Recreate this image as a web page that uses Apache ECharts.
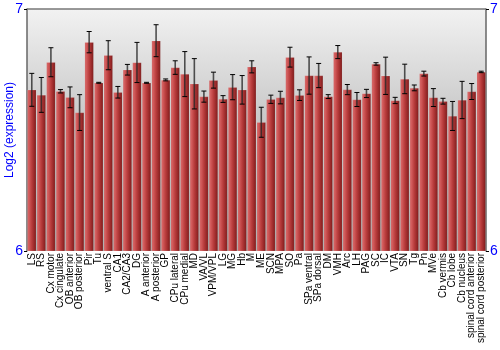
<!DOCTYPE html>
<html><head><meta charset="utf-8">
<script src="https://cdn.jsdelivr.net/npm/echarts@6/dist/echarts.min.js"></script>
<style>html,body{margin:0;padding:0;background:#fff}#c{width:500px;height:350px}</style>
</head><body><div id="c"></div>
<script>
const categories = ["LS","RS","Cx motor","Cx cingulate","OB anterior","OB posterior","Pir","Tu","ventral S","CA1","CA2/CA3","DG","A anterior","A posterior","GP","CPu lateral","CPu medial","MD","VA/VL","VPM/VPL","LG","MG","Hb","M","ME","SCN","MPA","SO","Pa","SPa ventral","SPa dorsal","DM","VMH","Arc","LH","PAG","SC","IC","VTA","SN","Tg","Pn","MVe","Cb vermis","Cb lobe","Cb nucleus","spinal cord anterior","spinal cord posterior"];
const values = [6.666,6.645,6.780,6.660,6.635,6.572,6.863,6.695,6.809,6.656,6.749,6.779,6.695,6.869,6.707,6.758,6.731,6.691,6.638,6.706,6.628,6.677,6.666,6.761,6.532,6.627,6.634,6.801,6.644,6.725,6.725,6.638,6.822,6.667,6.626,6.651,6.773,6.724,6.622,6.711,6.674,6.733,6.634,6.619,6.558,6.624,6.659,6.740];
const errors = [0.068,0.072,0.060,0.007,0.043,0.074,0.044,0.002,0.060,0.024,0.022,0.083,0.002,0.066,0.004,0.028,0.093,0.104,0.023,0.033,0.014,0.052,0.059,0.025,0.062,0.017,0.026,0.041,0.022,0.077,0.050,0.008,0.027,0.021,0.029,0.017,0.005,0.077,0.013,0.061,0.012,0.010,0.037,0.012,0.060,0.077,0.033,0.003];
const yTicks = [6,7];
const yName = "Log2 (expression)";

const chart = echarts.init(document.getElementById('c'), null, {renderer:'canvas'});
const errData = values.map((v,i)=>[i, v-errors[i], v+errors[i]]);
const barColor = new echarts.graphic.LinearGradient(0,0,1,0,[
  {offset:0,color:'#c85858'},{offset:0.15,color:'#d66060'},{offset:0.5,color:'#b83c3c'},{offset:0.85,color:'#902424'},{offset:1,color:'#701515'}]);
const font = 'Liberation Sans, Arial, sans-serif';
chart.setOption({
  animation:false,
  backgroundColor:'#ffffff',
  grid:{left:27,right:14,top:9,bottom:99,show:true,borderWidth:0,outerBoundsMode:'none',containLabel:false,
    backgroundColor:new echarts.graphic.LinearGradient(0,0,0,1,[{offset:0,color:'#f2f2f2'},{offset:0.4,color:'#cdcdcd'},{offset:1,color:'#a8a8a8'}])},
  xAxis:{type:'category',data:categories,
    axisLine:{show:false},axisTick:{show:false},
    axisLabel:{rotate:90,interval:0,margin:2,fontSize:10,color:'#000',fontFamily:font}},
  yAxis:[
    {type:'value',min:6,max:7,interval:1,position:'left',
     name:yName,nameLocation:'middle',nameGap:11,nameMoveOverlap:false,nameTextStyle:{color:'#0000ff',fontSize:12,fontFamily:font},
     axisLine:{show:true,lineStyle:{color:'#666',width:1.5}},axisTick:{show:true,length:3,lineStyle:{color:'#000'}},
     splitLine:{show:false},
     axisLabel:{color:'#0000ff',fontSize:14,margin:4,fontFamily:font,formatter:v=>yTicks.includes(v)?String(v):''}},
    {type:'value',min:6,max:7,interval:1,position:'right',
     axisLine:{show:true,lineStyle:{color:'#666',width:1.5}},axisTick:{show:true,length:3,lineStyle:{color:'#000'}},
     splitLine:{show:false},
     axisLabel:{color:'#0000ff',fontSize:14,margin:4,fontFamily:font,formatter:v=>yTicks.includes(v)?String(v):''}}
  ],
  graphic:[{type:'line',shape:{x1:27,y1:9,x2:486,y2:9},style:{stroke:'#777',lineWidth:1.5},z:10}],
  series:[
    {type:'bar',data:values,barCategoryGap:'6%',itemStyle:{color:barColor,borderColor:'rgba(255,255,255,0.25)',borderWidth:0.5}},
    {type:'custom',data:errData,z:5,
     renderItem:function(params,api){
       const x=api.value(0);
       const lo=api.coord([x,api.value(1)]);
       const hi=api.coord([x,api.value(2)]);
       const w=2.5;
       const st={stroke:'#000',lineWidth:1};
       return {type:'group',children:[
         {type:'line',shape:{x1:lo[0],y1:lo[1],x2:hi[0],y2:hi[1]},style:{stroke:'rgba(40,40,40,0.8)',lineWidth:1.6}},
         {type:'line',shape:{x1:lo[0]-w,y1:lo[1],x2:lo[0]+w,y2:lo[1]},style:st},
         {type:'line',shape:{x1:hi[0]-w,y1:hi[1],x2:hi[0]+w,y2:hi[1]},style:st}
       ]};
     }}
  ]
});
</script></body></html>
